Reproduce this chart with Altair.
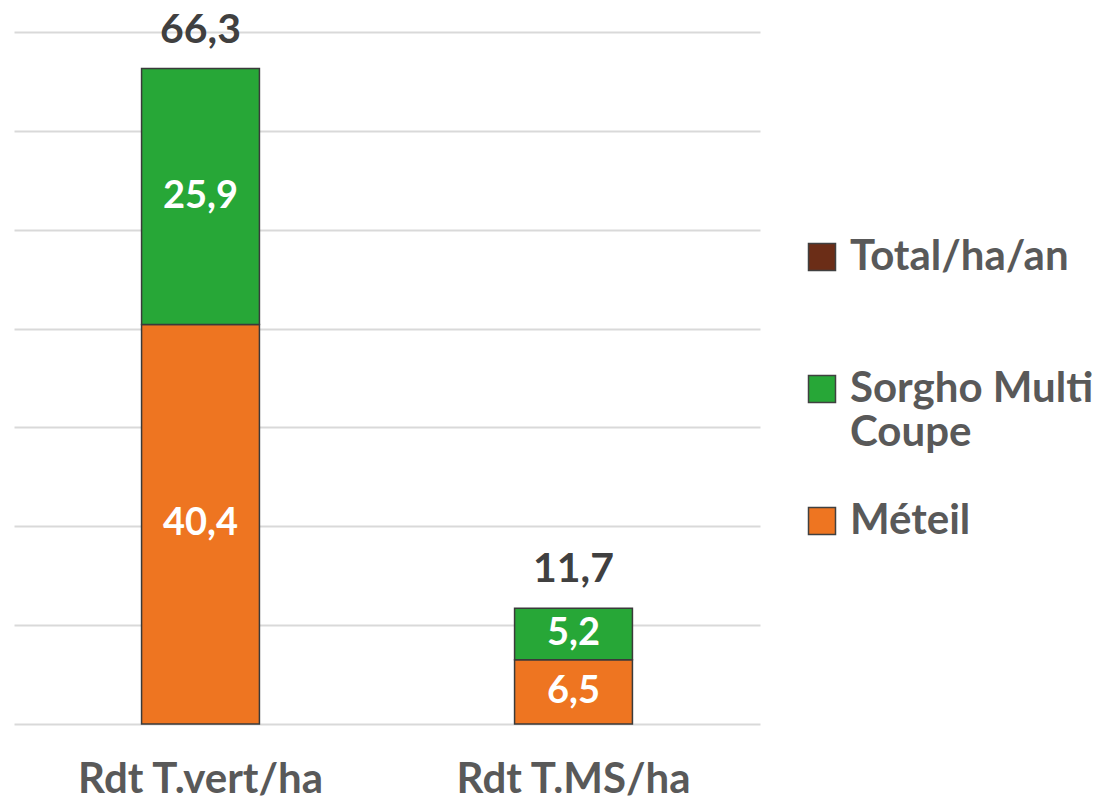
import altair as alt
import pandas as pd

categories = ["Rdt T.vert/ha", "Rdt T.MS/ha"]
meteil = [40.4, 6.5]
sorgho = [25.9, 5.2]
total = [66.3, 11.7]
series = ["Total/ha/an", "Sorgho Multi Coupe", "Méteil"]
colors = ["#6B2D17", "#27A737", "#EE7521"]
grid_values = [0, 10, 20, 30, 40, 50, 60, 70]

FONT = "Lato"

rows = []
for i, c in enumerate(categories):
    rows.append({"cat": c, "series": "Méteil", "value": meteil[i], "ord": 0})
    rows.append({"cat": c, "series": "Sorgho Multi Coupe", "value": sorgho[i], "ord": 1})
df = pd.DataFrame(rows)
df_total = pd.DataFrame({"cat": categories, "total": total})

fmt = "replace(format(datum.{f}, '.1f'), '.', ',')"

x_enc = alt.X(
    "cat:N",
    sort=categories,
    scale=alt.Scale(paddingInner=0.684, paddingOuter=0.342),
    axis=alt.Axis(
        title=None, labelAngle=0, ticks=False, domain=False, grid=False,
        labelFont=FONT, labelFontSize=42, labelFontWeight="bold",
        labelColor="#595959", labelPadding=35, labelLimit=1000,
    ),
)

y_scale = alt.Scale(domain=[0, 70])

base = alt.Chart(df).transform_stack(
    stack="value", groupby=["cat"],
    sort=[alt.SortField("ord", order="ascending")],
    as_=["y0", "y1"],
).transform_calculate(mid="(datum.y0 + datum.y1) / 2", lbl=fmt.format(f="value"))

legend_expr = (
    "datum.label == 'Sorgho Multi Coupe' ? ['Sorgho Multi', 'Coupe'] : [datum.label, '']"
)

bars = base.mark_bar(stroke="#3A3A3A", strokeWidth=1.5).encode(
    x=x_enc,
    y=alt.Y("y0:Q", scale=y_scale, axis=alt.Axis(
        title=None, labels=False, ticks=False, domain=False, grid=True,
        values=grid_values, gridColor="#D9D9D9", gridWidth=2,
    )),
    y2="y1:Q",
    color=alt.Color(
        "series:N",
        scale=alt.Scale(domain=series, range=colors),
        legend=alt.Legend(
            title=None, orient="none", legendX=787, legendY=204,
            symbolType="square", symbolSize=729,
            symbolStrokeColor="#404040", symbolStrokeWidth=1.5,
            labelFont=FONT, labelFontSize=42, labelFontWeight="bold",
            labelColor="#595959", labelLimit=1000, labelOffset=7,
            rowPadding=46,
            labelExpr=legend_expr,
        ),
    ),
)

inner = base.mark_text(
    font=FONT, fontSize=38, fontWeight="bold", color="white", baseline="middle"
).encode(
    x=alt.X("cat:N", sort=categories),
    y=alt.Y("mid:Q", scale=y_scale),
    text="lbl:N",
)

totals = alt.Chart(df_total).transform_calculate(
    lbl=fmt.format(f="total")
).mark_text(
    font=FONT, fontSize=41, fontWeight="bold", color="#404040",
    baseline="alphabetic", dy=-26,
).encode(
    x=alt.X("cat:N", sort=categories),
    y=alt.Y("total:Q", scale=y_scale),
    text="lbl:N",
)

chart = alt.layer(bars, inner, totals).properties(
    width=746, height=692,
    padding={"left": 6, "top": 24, "right": 335, "bottom": 74},
    autosize=alt.AutoSizeParams(type="none"),
).configure_view(stroke=None)

chart.save("out.html", embed_options={"renderer": "svg", "actions": False})
